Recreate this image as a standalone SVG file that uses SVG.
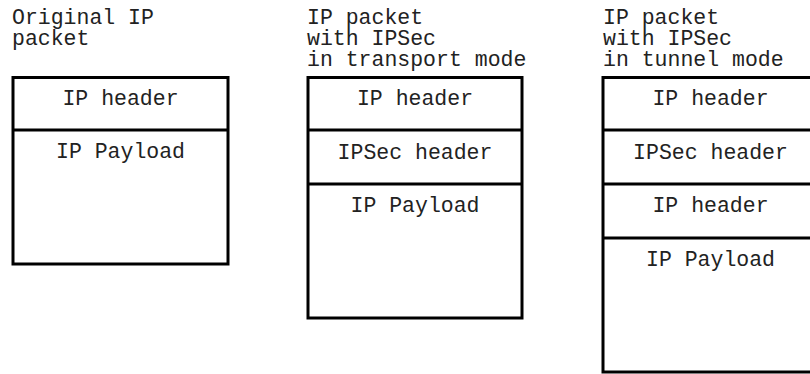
<svg xmlns="http://www.w3.org/2000/svg" width="810" height="374" viewBox="0 0 810 374">
<style>
text{font-family:"Liberation Mono","Courier New",monospace;font-size:21.5px;fill:#222}
.c{text-anchor:middle}
.box{fill:#fff;stroke:#000;stroke-width:3}
.div{stroke:#000;stroke-width:3}
</style>
<rect width="810" height="374" fill="#fff"/>
<g id="title-original">
<text x="12" y="24">Original IP</text>
<text x="12" y="45">packet</text>
</g>
<g id="title-transport">
<text x="307" y="24">IP packet</text>
<text x="307" y="45">with IPSec</text>
<text x="307" y="66">in transport mode</text>
</g>
<g id="title-tunnel">
<text x="603" y="24">IP packet</text>
<text x="603" y="45">with IPSec</text>
<text x="603" y="66">in tunnel mode</text>
</g>
<g id="packet-original">
<rect class="box" x="13" y="77.5" width="215" height="186.5"/>
<line class="div" x1="13" y1="130" x2="228" y2="130"/>
<text class="c" x="120.5" y="105">IP header</text>
<text class="c" x="120.5" y="158">IP Payload</text>
</g>
<g id="packet-transport">
<rect class="box" x="308" y="77.5" width="214" height="240.5"/>
<line class="div" x1="308" y1="130" x2="522" y2="130"/>
<line class="div" x1="308" y1="184" x2="522" y2="184"/>
<text class="c" x="415" y="105">IP header</text>
<text class="c" x="415" y="159">IPSec header</text>
<text class="c" x="415" y="212">IP Payload</text>
</g>
<g id="packet-tunnel">
<rect class="box" x="603" y="77.5" width="215" height="294.5"/>
<line class="div" x1="603" y1="130" x2="818" y2="130"/>
<line class="div" x1="603" y1="184" x2="818" y2="184"/>
<line class="div" x1="603" y1="238" x2="818" y2="238"/>
<text class="c" x="710.5" y="105">IP header</text>
<text class="c" x="710.5" y="159">IPSec header</text>
<text class="c" x="710.5" y="212">IP header</text>
<text class="c" x="710.5" y="266">IP Payload</text>
</g>
<g id="connectors"></g>
</svg>
